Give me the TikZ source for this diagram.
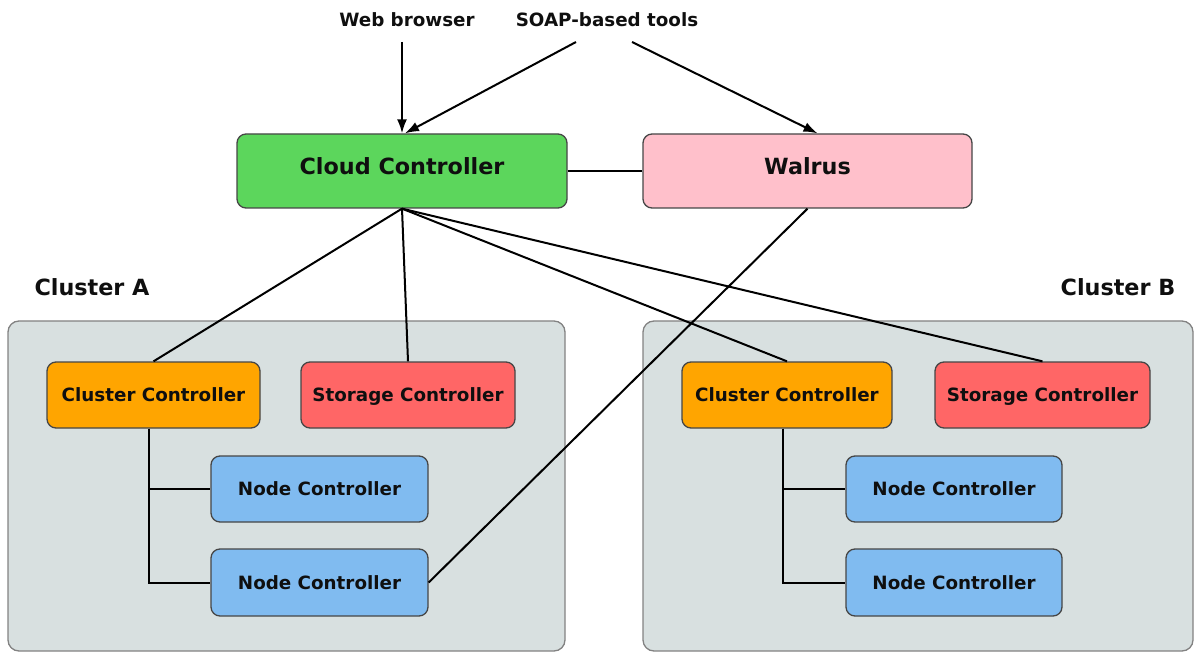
\documentclass[tikz,border=0pt]{standalone}
\usepackage{fontspec}
\setmainfont{DejaVu Sans}
\usetikzlibrary{arrows.meta,calc}
\definecolor{cloudg}{RGB}{92,214,92}
\definecolor{walrusp}{RGB}{255,192,203}
\definecolor{ccorange}{RGB}{255,165,0}
\definecolor{scred}{RGB}{255,102,102}
\definecolor{ncblue}{RGB}{128,187,240}
\definecolor{clbg}{RGB}{216,224,224}
\definecolor{clborder}{RGB}{130,130,130}
\definecolor{boxborder}{RGB}{70,70,70}
\definecolor{txt}{RGB}{15,15,15}
\tikzset{
  box/.style={draw=boxborder, line width=1.3pt, rounded corners=9pt, text=txt,
    font=\fontsize{18.3}{20}\selectfont\bfseries, align=center, inner sep=0pt,
    text height=13.3pt, text depth=0pt},
  bigbox/.style={box, minimum width=330pt, minimum height=74pt,
    font=\fontsize{22.3}{24}\selectfont\bfseries, text height=16.5pt, text depth=10pt},
  midbox/.style={box, minimum height=66pt},
  cluster/.style={draw=clborder, line width=1.3pt, fill=clbg, rounded corners=11pt},
  lbl/.style={text=txt, font=\fontsize{18.3}{20}\selectfont\bfseries, inner sep=0pt},
  clbl/.style={text=txt, font=\fontsize{22.3}{24}\selectfont\bfseries, inner sep=0pt},
  conn/.style={line width=2pt, black},
  arr/.style={conn, -{Latex[length=14pt,width=10pt]}}
}
\begin{document}
\begin{tikzpicture}[x=1pt,y=-1pt]
\useasboundingbox (0,0) rectangle (1194,652);
% clusters
\path[cluster] (8,321) rectangle (565,651);
\path[cluster] (643,321) rectangle (1193,651);
\node[clbl] (labA) at (92,287) {Cluster A};
\node[clbl] (labB) at (1118,287) {Cluster B};
% top labels
\node[lbl] (web) at (407,20) {Web browser};
\node[lbl] (soap) at (607,20) {SOAP-based tools};
\coordinate (webs) at (402,42);
\coordinate (soapl) at (576,42);
\coordinate (soapr) at (632,42);
% main boxes
\node[bigbox, fill=cloudg] (cloud) at (402,171) {Cloud Controller};
\node[bigbox, fill=walrusp, minimum width=329pt] (walrus) at (807.5,171) {Walrus};
% cluster A
\node[midbox, fill=ccorange, minimum width=213pt] (cca) at (153.5,395) {Cluster Controller};
\node[midbox, fill=scred, minimum width=214pt] (sca) at (408,395) {Storage Controller};
\node[midbox, fill=ncblue, minimum width=217pt] (na1) at (319.5,489) {Node Controller};
\node[midbox, fill=ncblue, minimum width=217pt, minimum height=67pt] (na2) at (319.5,582.5) {Node Controller};
% cluster B
\node[midbox, fill=ccorange, minimum width=210pt] (ccb) at (787,395) {Cluster Controller};
\node[midbox, fill=scred, minimum width=215pt] (scb) at (1042.5,395) {Storage Controller};
\node[midbox, fill=ncblue, minimum width=216pt] (nb1) at (954,489) {Node Controller};
\node[midbox, fill=ncblue, minimum width=216pt, minimum height=67pt] (nb2) at (954,582.5) {Node Controller};
% arrows
\draw[arr] (webs) -- (cloud.north);
\draw[arr] (soapl) -- ([xshift=3pt]cloud.north);
\draw[arr] (soapr) -- ([xshift=10pt]walrus.north);
% connectors
\draw[conn] (cloud.east) -- (walrus.west);
\draw[conn] (cloud.south) -- (cca.north);
\draw[conn] (cloud.south) -- (sca.north);
\draw[conn] (cloud.south) -- (ccb.north);
\draw[conn] (cloud.south) -- (scb.north);
\draw[conn] (walrus.south) -- (na2.east);
\draw[conn] ([xshift=-4.5pt]cca.south) |- (na1.west);
\draw[conn] ([xshift=-4.5pt]cca.south) |- (na2.west);
\draw[conn] ([xshift=-4pt]ccb.south) |- (nb1.west);
\draw[conn] ([xshift=-4pt]ccb.south) |- (nb2.west);
\end{tikzpicture}
\end{document}
